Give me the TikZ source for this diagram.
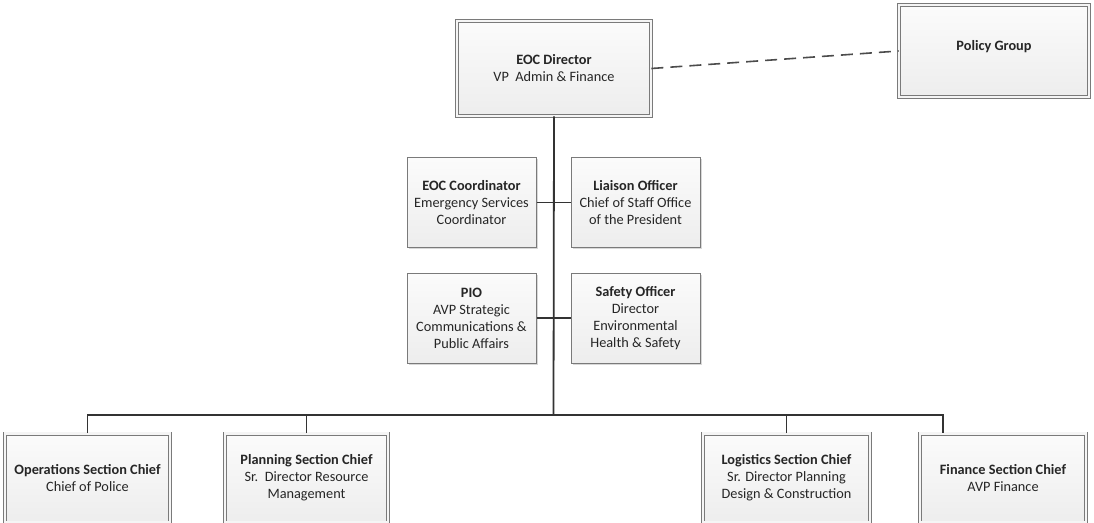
\documentclass[tikz,border=0pt]{standalone}
\usepackage{fontspec}
\setmainfont{Carlito}
\usetikzlibrary{shadows}
\definecolor{boxline}{HTML}{7A7A7A}
\definecolor{conn}{HTML}{333333}
\begin{document}
\begin{tikzpicture}[x=1pt,y=-1pt,
  basebox/.style={rectangle, draw=boxline, top color=gray!3, bottom color=gray!14,
    align=center, font=\fontsize{14.3}{17}\selectfont, inner sep=2pt, text=black!85,
    drop shadow={shadow xshift=1.5pt, shadow yshift=-1.5pt, opacity=0.3}},
  mainbox/.style={basebox, line width=0.8pt, double=gray!8, double distance=2.4pt},
  smallbox/.style={basebox, line width=1pt, minimum width=129pt, minimum height=90pt},
  conline/.style={draw=conn, line width=1.8pt},
  dashline/.style={draw=gray!60!black, line width=1.6pt, dash pattern=on 12pt off 7pt}]
\useasboundingbox (0,0) rectangle (1094,522);
\fill[white] (0,0) rectangle (1094,522);

\node[mainbox, minimum width=194pt, minimum height=95pt] (director) at (554,68.5)
  {\textbf{EOC Director}\\VP\ \ Admin \& Finance};
\node[mainbox, minimum width=190pt, minimum height=92pt] (policy) at (994,51)
  {\raisebox{12pt}{\textbf{Policy Group}}};

\node[smallbox] (coord) at (471.5,202.5) {\textbf{EOC Coordinator}\\Emergency Services\\Coordinator};
\node[smallbox] (liaison) at (635.5,202.5) {\textbf{Liaison Officer}\\Chief of Staff Office\\of the President};
\node[smallbox] (pio) at (471.5,318) {\textbf{PIO}\\AVP Strategic\\Communications \&\\Public Affairs};
\node[smallbox] (safety) at (635.5,318) {\textbf{Safety Officer}\\Director\\Environmental\\Health \& Safety};

\node[mainbox, minimum width=165pt, minimum height=89pt] (ops) at (87.5,478)
  {\textbf{Operations Section Chief}\\Chief of Police};
\node[mainbox, minimum width=163pt, minimum height=89pt] (plan) at (306.5,478)
  {\textbf{Planning Section Chief}\\Sr.\ \ Director Resource\\Management};
\node[mainbox, minimum width=167pt, minimum height=89pt] (log) at (786.5,478)
  {\textbf{Logistics Section Chief}\\Sr. Director Planning\\Design \& Construction};
\node[mainbox, minimum width=166pt, minimum height=89pt] (fin) at (1003,478)
  {\textbf{Finance Section Chief}\\AVP Finance};

\coordinate (bus) at (553.5,415);
\coordinate (finbus) at (943,415);

\draw[dashline] (director.east) -- (policy.west);
\draw[conline] (director.south) -- (bus);
\draw[conline] (coord.east) -- (liaison.west);
\draw[conline] (pio.east) -- (safety.west);
\draw[conline] (ops.north) -- (ops.north |- bus) -- (finbus) -- (finbus |- fin.north);
\draw[conline] (plan.north) -- (plan.north |- bus);
\draw[conline] (log.north) -- (log.north |- bus);
\end{tikzpicture}
\end{document}
